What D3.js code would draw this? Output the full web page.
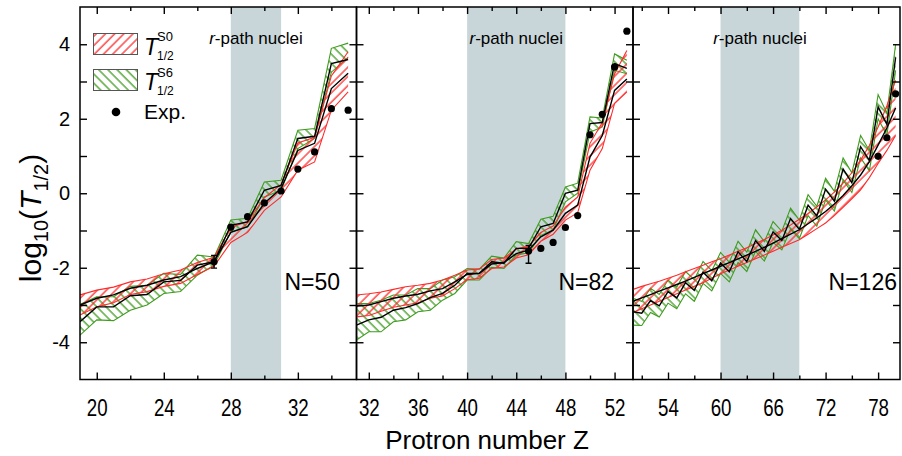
<!DOCTYPE html>
<html lang="en">
<head>
<meta charset="UTF-8">
<title>log10(T1/2) for N=50, 82, 126</title>
<script src="https://d3js.org/d3.v7.min.js"></script>
<style>
    body { margin: 0; background: #fff; }
    svg { display: block; font-family: "Liberation Sans", Arial, sans-serif; }
</style>
</head>
<body>
<div id="chart"></div>
<script>
    // ---- data ----
    const p1Z = [19, 20, 21, 22, 23, 24, 25, 26, 27, 28, 29, 30, 31, 32, 33, 34, 35];
    const p1S0Hi = [-2.73, -2.60, -2.52, -2.38, -2.30, -2.16, -2.06, -1.86, -1.72, -0.92, -0.76, -0.12, 0.24, 1.35, 1.50, 3.15, 3.80];
    const p1S0Lo = [-3.27, -3.05, -2.94, -2.72, -2.64, -2.50, -2.42, -2.18, -1.96, -1.32, -1.05, -0.46, -0.10, 0.62, 0.84, 2.23, 2.72];
    const p1S0Mid = [-3.00, -2.82, -2.73, -2.55, -2.47, -2.33, -2.24, -2.02, -1.84, -1.05, -0.90, -0.27, 0.13, 1.15, 1.34, 2.81, 3.22];
    const p1S6Hi = [-2.98, -2.78, -2.78, -2.50, -2.47, -2.15, -2.18, -1.66, -1.71, -0.72, -0.67, 0.30, 0.35, 1.69, 1.74, 3.89, 4.03];
    const p1S6Lo = [-3.81, -3.40, -3.42, -3.14, -3.00, -2.69, -2.64, -2.20, -1.93, -1.04, -0.90, -0.10, 0.08, 1.20, 1.47, 3.25, 3.65];
    const p1S6Mid = [-3.45, -3.05, -3.05, -2.75, -2.72, -2.38, -2.34, -1.93, -1.84, -0.86, -0.77, 0.08, 0.21, 1.47, 1.53, 3.48, 3.59];
    const p1ExpZ = [27, 28, 29, 30, 31, 32, 33, 34, 35];
    const p1Exp = [-1.84, -0.91, -0.63, -0.26, 0.06, 0.65, 1.11, 2.27, 2.23];
    const p1ErrZ = [27], p1ErrLo = [-2.01], p1ErrHi = [-1.67];

    const p2Z = [31, 32, 33, 34, 35, 36, 37, 38, 39, 40, 41, 42, 43, 44, 45, 46, 47, 48, 49, 50, 51, 52, 53];
    const p2S0Hi = [-2.73, -2.70, -2.65, -2.58, -2.51, -2.47, -2.42, -2.33, -2.20, -2.06, -2.03, -1.78, -1.74, -1.50, -1.42, -1.05, -0.88, -0.37, -0.10, 1.34, 1.90, 3.20, 3.83];
    const p2S0Lo = [-3.32, -3.28, -3.17, -3.06, -3.00, -2.94, -2.82, -2.76, -2.56, -2.32, -2.28, -2.02, -1.98, -1.74, -1.65, -1.29, -1.10, -0.72, -0.52, 0.62, 1.20, 2.41, 2.72];
    const p2S0Mid = [-3.03, -3.00, -2.91, -2.82, -2.76, -2.71, -2.62, -2.56, -2.38, -2.18, -2.15, -1.90, -1.86, -1.62, -1.53, -1.17, -0.99, -0.54, -0.32, 0.97, 1.55, 2.76, 3.07];
    const p2S6Hi = [-2.96, -2.96, -2.87, -2.73, -2.73, -2.56, -2.56, -2.33, -2.24, -2.02, -2.04, -1.69, -1.74, -1.30, -1.35, -0.70, -0.62, 0.17, 0.27, 2.05, 2.02, 3.74, 3.57];
    const p2S6Lo = [-3.94, -3.72, -3.72, -3.45, -3.40, -3.18, -3.14, -2.87, -2.69, -2.33, -2.33, -1.99, -2.02, -1.66, -1.60, -1.13, -0.99, -0.23, 0.00, 1.64, 1.78, 3.30, 3.21];
    const p2S6Mid = [-3.54, -3.40, -3.33, -3.14, -3.07, -2.96, -2.80, -2.69, -2.47, -2.15, -2.15, -1.84, -1.88, -1.48, -1.48, -0.90, -0.81, 0.00, 0.08, 1.87, 1.90, 3.48, 3.35];
    const p2ExpZ = [45, 46, 47, 48, 49, 50, 51, 52, 53];
    const p2Exp = [-1.55, -1.48, -1.32, -0.92, -0.60, 1.57, 2.12, 3.39, 4.35];
    const p2ErrZ = [45], p2ErrLo = [-1.88], p2ErrHi = [-1.40];

    const p3Z = [50, 51, 52, 53, 54, 55, 56, 57, 58, 59, 60, 61, 62, 63, 64, 65, 66, 67, 68, 69, 70, 71, 72, 73, 74, 75, 76, 77, 78, 79, 80];
    const p3S0Hi = [-2.58, -2.50, -2.43, -2.36, -2.28, -2.20, -2.11, -2.02, -1.93, -1.84, -1.76, -1.66, -1.56, -1.46, -1.35, -1.24, -1.12, -0.99, -0.85, -0.70, -0.54, -0.37, -0.18, 0.03, 0.27, 0.55, 0.89, 1.28, 1.78, 2.35, 3.03];
    const p3S0Lo = [-3.20, -3.10, -3.00, -2.90, -2.80, -2.70, -2.60, -2.50, -2.40, -2.28, -2.16, -2.06, -1.96, -1.86, -1.76, -1.66, -1.56, -1.45, -1.35, -1.25, -1.10, -0.95, -0.80, -0.60, -0.38, -0.15, 0.09, 0.42, 0.80, 1.15, 1.55];
    const p3S0Mid = [-2.90, -2.81, -2.72, -2.63, -2.54, -2.45, -2.36, -2.26, -2.16, -2.06, -1.96, -1.86, -1.76, -1.66, -1.56, -1.45, -1.34, -1.22, -1.10, -0.98, -0.82, -0.66, -0.49, -0.29, -0.06, 0.20, 0.49, 0.85, 1.29, 1.75, 2.29];
    const p3S6Hi = [-2.82, -2.90, -2.55, -2.72, -2.33, -2.52, -2.10, -2.32, -1.83, -2.08, -1.59, -1.85, -1.29, -1.58, -0.98, -1.30, -0.76, -1.02, -0.40, -0.72, -0.04, -0.35, 0.40, 0.05, 0.95, 0.55, 1.55, 1.15, 2.65, 2.15, 4.00];
    const p3S6Lo = [-3.54, -3.55, -3.20, -3.32, -2.95, -3.10, -2.70, -2.90, -2.42, -2.62, -2.15, -2.38, -1.86, -2.10, -1.56, -1.82, -1.32, -1.52, -0.96, -1.22, -0.60, -0.88, -0.18, -0.48, 0.35, 0.02, 0.95, 0.60, 2.00, 1.55, 3.30];
    const p3S6Mid = [-3.18, -3.22, -2.88, -3.02, -2.64, -2.81, -2.40, -2.61, -2.12, -2.35, -1.87, -2.11, -1.57, -1.84, -1.27, -1.56, -1.04, -1.27, -0.68, -0.97, -0.32, -0.61, 0.11, -0.21, 0.65, 0.28, 1.25, 0.88, 2.32, 1.85, 3.65];
    const p3ExpZ = [78, 79, 80];
    const p3Exp = [0.99, 1.49, 2.67];
    const p3ErrZ = [], p3ErrLo = [], p3ErrHi = [];

    const shadeRanges = [[28, 31], [40, 48], [60, 69]];
    const panelLabels = ["N=50", "N=82", "N=126"];
    const majorTicks = [[20, 24, 28, 32], [32, 36, 40, 44, 48, 52], [54, 60, 66, 72, 78]];
    const minorTicks = [[22, 26, 30, 34], [34, 38, 42, 46, 50], [51, 57, 63, 69, 75]];
    const yTicks = [-4, -3, -2, -1, 0, 1, 2, 3, 4];
    const yLabels = [-4, -2, 0, 2, 4];

    // ---- layout ----
    const W = 902, H = 456;
    const plotTop = 7, plotBottom = 379.5;
    const red = "#ff2b2b", green = "#3f9c1f", shadeColor = "#c9d6d9";

    const svg = d3.select("#chart").append("svg")
        .attr("width", W)
        .attr("height", H);

    const y = d3.scaleLinear().domain([-5, 5]).range([plotBottom, plotTop]);

    const defs = svg.append("defs");
    function hatch(id, color, angle) {
        const p = defs.append("pattern")
            .attr("id", id)
            .attr("width", 6.5)
            .attr("height", 6.5)
            .attr("patternUnits", "userSpaceOnUse")
            .attr("patternTransform", `rotate(${angle})`);
        p.append("line")
            .attr("x1", 1).attr("y1", 0).attr("x2", 1).attr("y2", 6.5)
            .attr("stroke", color)
            .attr("stroke-width", 1.3);
    }
    hatch("hatchS0", red, 45);
    hatch("hatchS6", green, -45);

    const panels = [
        { x0: 80, x1: 356.5, domain: [19, 35.5], z: p1Z, s0: [p1S0Lo, p1S0Hi, p1S0Mid], s6: [p1S6Lo, p1S6Hi, p1S6Mid],
          expZ: p1ExpZ, exp: p1Exp, errZ: p1ErrZ, errLo: p1ErrLo, errHi: p1ErrHi, labelX: 340 },
        { x0: 356.5, x1: 633, domain: [31, 53.5], z: p2Z, s0: [p2S0Lo, p2S0Hi, p2S0Mid], s6: [p2S6Lo, p2S6Hi, p2S6Mid],
          expZ: p2ExpZ, exp: p2Exp, errZ: p2ErrZ, errLo: p2ErrLo, errHi: p2ErrHi, labelX: 614 },
        { x0: 633, x1: 900, domain: [50, 80.5], z: p3Z, s0: [p3S0Lo, p3S0Hi, p3S0Mid], s6: [p3S6Lo, p3S6Hi, p3S6Mid],
          expZ: p3ExpZ, exp: p3Exp, errZ: p3ErrZ, errLo: p3ErrLo, errHi: p3ErrHi, labelX: 897 }
    ];

    panels.forEach((p, k) => {
        const x = d3.scaleLinear().domain(p.domain).range([p.x0, p.x1]);

        defs.append("clipPath").attr("id", "clip" + k)
            .append("rect")
            .attr("x", p.x0).attr("y", plotTop)
            .attr("width", p.x1 - p.x0).attr("height", plotBottom - plotTop);

        const g = svg.append("g").attr("clip-path", `url(#clip${k})`);

        // r-process path shading
        g.append("rect")
            .attr("x", x(shadeRanges[k][0]))
            .attr("y", plotTop)
            .attr("width", x(shadeRanges[k][1]) - x(shadeRanges[k][0]))
            .attr("height", plotBottom - plotTop)
            .attr("fill", shadeColor);

        const area = d3.area()
            .x((d, i) => x(p.z[i]))
            .y0(d => y(d[0]))
            .y1(d => y(d[1]));
        const line = d3.line()
            .x((d, i) => x(p.z[i]))
            .y(d => y(d));

        // S6 band (green, back-slash hatch)
        g.append("path")
            .datum(d3.zip(p.s6[0], p.s6[1]))
            .attr("d", area)
            .attr("fill", "url(#hatchS6)");
        [p.s6[0], p.s6[1]].forEach(arr => {
            g.append("path").datum(arr).attr("d", line)
                .attr("fill", "none").attr("stroke", green).attr("stroke-width", 1.1);
        });

        // S0 band (red, slash hatch)
        g.append("path")
            .datum(d3.zip(p.s0[0], p.s0[1]))
            .attr("d", area)
            .attr("fill", "url(#hatchS0)");
        [p.s0[0], p.s0[1]].forEach(arr => {
            g.append("path").datum(arr).attr("d", line)
                .attr("fill", "none").attr("stroke", red).attr("stroke-width", 1.1);
        });

        // central lines
        [p.s6[2], p.s0[2]].forEach(arr => {
            g.append("path").datum(arr).attr("d", line)
                .attr("fill", "none").attr("stroke", "#000").attr("stroke-width", 1.4);
        });

        // experiment
        p.errZ.forEach((z, i) => {
            const cx = x(z);
            g.append("path")
                .attr("d", `M${cx},${y(p.errLo[i])}V${y(p.errHi[i])}M${cx - 3},${y(p.errLo[i])}H${cx + 3}M${cx - 3},${y(p.errHi[i])}H${cx + 3}`)
                .attr("stroke", "#000").attr("stroke-width", 1.4).attr("fill", "none");
        });
        svg.selectAll(null)
            .data(p.expZ)
            .enter().append("circle")
            .attr("cx", d => x(d))
            .attr("cy", (d, i) => y(p.exp[i]))
            .attr("r", 3.6)
            .attr("fill", "#000");

        // frame
        svg.append("rect")
            .attr("x", p.x0).attr("y", plotTop)
            .attr("width", p.x1 - p.x0).attr("height", plotBottom - plotTop)
            .attr("fill", "none").attr("stroke", "#000").attr("stroke-width", 1.5);

        const strip = sel => sel.call(s => s.select(".domain").remove())
            .call(s => s.selectAll(".tick line").attr("stroke-width", 1.4));

        // x ticks, bottom with labels (condensed look of the original)
        svg.append("g")
            .attr("transform", `translate(0,${plotBottom})`)
            .call(d3.axisBottom(x).tickValues(majorTicks[k]).tickSize(-7).tickPadding(19).tickFormat(d3.format("d")))
            .call(strip)
            .call(s => s.selectAll("text").attr("font-size", 24).attr("fill", "#000")
                .attr("font-family", '"Liberation Sans", Arial, sans-serif')
                .attr("transform", "scale(0.78,1)"));
        svg.append("g")
            .attr("transform", `translate(0,${plotBottom})`)
            .call(d3.axisBottom(x).tickValues(minorTicks[k]).tickSize(-4).tickFormat(""))
            .call(strip);
        svg.append("g")
            .attr("transform", `translate(0,${plotTop})`)
            .call(d3.axisTop(x).tickValues(majorTicks[k]).tickSize(-7).tickFormat(""))
            .call(strip);
        svg.append("g")
            .attr("transform", `translate(0,${plotTop})`)
            .call(d3.axisTop(x).tickValues(minorTicks[k]).tickSize(-4).tickFormat(""))
            .call(strip);

        // y ticks both sides
        svg.append("g")
            .attr("transform", `translate(${p.x0},0)`)
            .call(d3.axisLeft(y).tickValues(yTicks).tickSize(-7).tickPadding(10)
                .tickFormat(d => (k === 0 && yLabels.includes(d)) ? (d < 0 ? "-" + Math.abs(d) : String(d)) : ""))
            .call(strip)
            .call(s => s.selectAll("text").attr("font-size", 20).attr("fill", "#000")
                .attr("font-family", '"Liberation Sans", Arial, sans-serif'));
        svg.append("g")
            .attr("transform", `translate(${p.x1},0)`)
            .call(d3.axisRight(y).tickValues(yTicks).tickSize(-7).tickFormat(""))
            .call(strip);

        // annotations
        const mid = (x(shadeRanges[k][0]) + x(shadeRanges[k][1])) / 2;
        const t = svg.append("text")
            .attr("x", mid).attr("y", 44)
            .attr("text-anchor", "middle")
            .attr("font-size", 17);
        t.append("tspan").attr("font-style", "italic").text("r");
        t.append("tspan").text("-path nuclei");

        svg.append("text")
            .attr("x", p.labelX).attr("y", 290)
            .attr("text-anchor", "end")
            .attr("font-size", 23)
            .text(panelLabels[k]);
    });

    // ---- legend ----
    const leg = svg.append("g");
    leg.append("rect").attr("x", 93.5).attr("y", 33.5).attr("width", 44).attr("height", 21)
        .attr("fill", "url(#hatchS0)").attr("stroke", "#555").attr("stroke-width", 1);
    leg.append("rect").attr("x", 93.5).attr("y", 69.5).attr("width", 44).attr("height", 21)
        .attr("fill", "url(#hatchS6)").attr("stroke", "#555").attr("stroke-width", 1);
    [["S0", 55, 41, 60], ["S6", 90, 77, 95]].forEach(([sup, base, supY, subY]) => {
        leg.append("text").attr("x", 144).attr("y", base)
            .attr("font-size", 23).attr("font-style", "italic").text("T");
        leg.append("text").attr("x", 157).attr("y", supY)
            .attr("font-size", 13).text(sup);
        leg.append("text").attr("x", 157).attr("y", subY)
            .attr("font-size", 12).text("1/2");
    });
    leg.append("circle").attr("cx", 116).attr("cy", 112).attr("r", 4.3).attr("fill", "#000");
    leg.append("text").attr("x", 144).attr("y", 119).attr("font-size", 21).text("Exp.");

    // ---- axis titles ----
    svg.append("text")
        .attr("x", 487).attr("y", 449)
        .attr("text-anchor", "middle")
        .attr("font-size", 26)
        .text("Protron number Z");

    const yt = svg.append("text")
        .attr("transform", "translate(41,218) rotate(-90)")
        .attr("text-anchor", "middle")
        .attr("font-size", 30);
    yt.append("tspan").text("log");
    yt.append("tspan").attr("font-size", 20).attr("dy", 7).text("10");
    yt.append("tspan").attr("dy", -7).text("(");
    yt.append("tspan").attr("font-style", "italic").text("T");
    yt.append("tspan").attr("font-size", 20).attr("dy", 7).text("1/2");
    yt.append("tspan").attr("dy", -7).text(")");
</script>
</body>
</html>
